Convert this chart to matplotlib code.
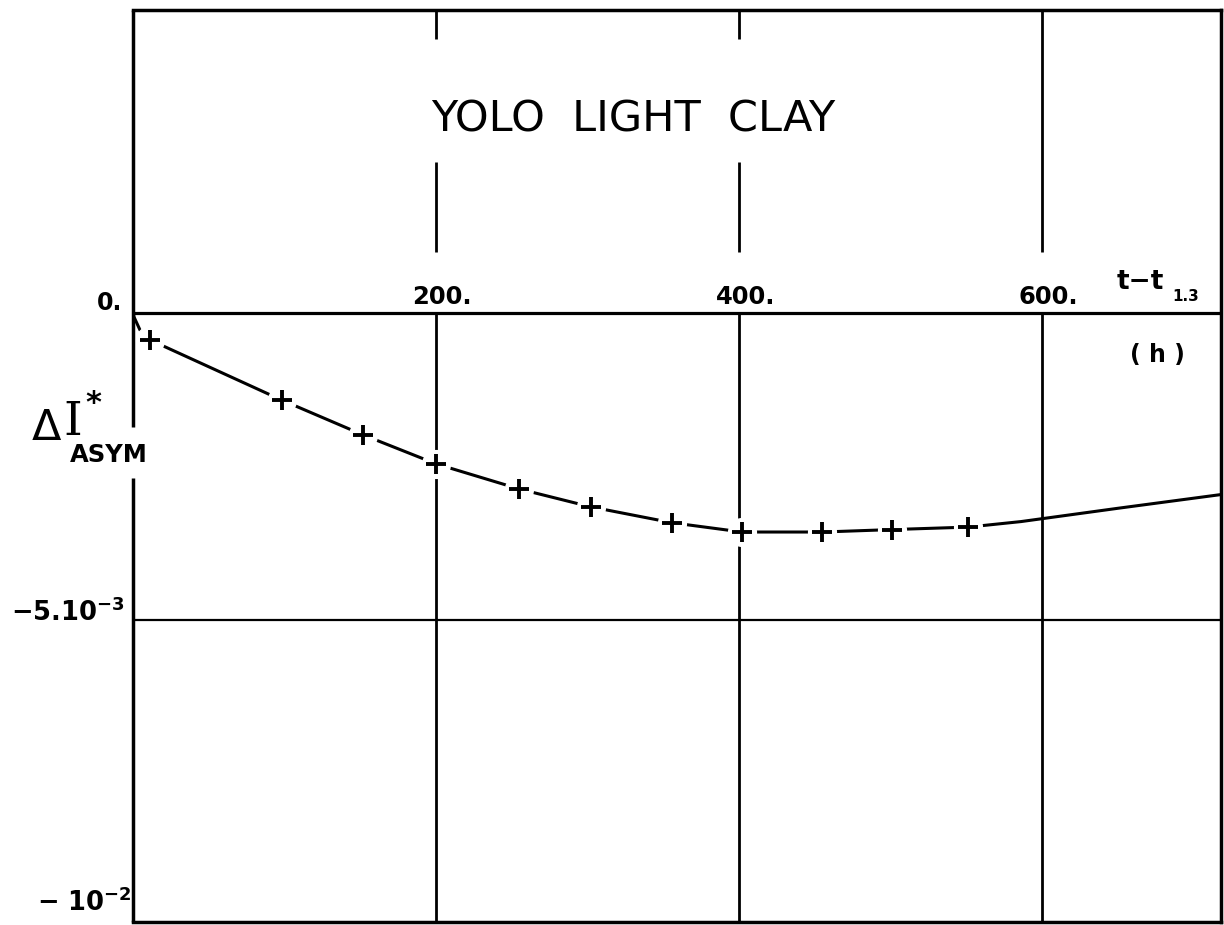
import matplotlib
matplotlib.use("Agg")
import matplotlib.pyplot as plt

# Measured asymmetry index vs. elapsed time
t_obs = [11, 98, 152, 200, 255, 302, 356, 402, 455, 501, 551]
dI_obs = [-0.44e-3, -1.42e-3, -1.99e-3, -2.46e-3, -2.87e-3, -3.16e-3,
          -3.42e-3, -3.57e-3, -3.57e-3, -3.53e-3, -3.49e-3]

# Hand-drawn smooth curve through the observations
t_curve = [0, 0.7, 4.6, 11, 98, 152, 200, 255, 302, 356, 402, 455, 501, 551, 586, 651, 718]
dI_curve = [0.0, -0.07e-3, -0.28e-3, -0.44e-3, -1.42e-3, -1.99e-3, -2.46e-3, -2.87e-3,
            -3.16e-3, -3.42e-3, -3.57e-3, -3.57e-3, -3.53e-3, -3.49e-3, -3.40e-3,
            -3.18e-3, -2.96e-3]

x_ticks = [200, 400, 600]
x_tick_labels = ["200.", "400.", "600."]

plt.rcParams["mathtext.fontset"] = "dejavusans"
plt.rcParams["mathtext.default"] = "bf"

fig = plt.figure(figsize=(12.24, 9.25), dpi=100)
ax = fig.add_axes([133 / 1224, 1 - 922 / 925, (1221 - 133) / 1224, (922 - 10) / 925])
XMAX = 718
YMIN, YMAX = -9.92e-3, 4.93e-3
ax.set_xlim(0, XMAX)
ax.set_ylim(YMIN, YMAX)
ax.set_xticks([])
ax.set_yticks([])
for side in ["top", "right", "bottom"]:
    ax.spines[side].set_linewidth(2.5)
ax.spines["left"].set_visible(False)

# left frame edge, interrupted by the axis label
ax.vlines(0, -2.69e-3, YMIN, color="black", lw=2.5, clip_on=False)
ax.vlines(0, -1.86e-3, YMAX, color="black", lw=2.5, clip_on=False)

# zero line and the -5e-3 reference line
ax.axhline(0, color="black", lw=2.3, zorder=2)
ax.axhline(-5e-3, color="black", lw=1.6, zorder=2)

# vertical grid lines (broken above the zero line around the title and labels)
for xv in x_ticks[:2]:
    ax.vlines(xv, 4.45e-3, YMAX, color="black", lw=2.0, zorder=2)
    ax.vlines(xv, 0.99e-3, 2.46e-3, color="black", lw=2.0, zorder=2)
    ax.vlines(xv, YMIN, 0, color="black", lw=2.0, zorder=2)
ax.vlines(x_ticks[2], 0.99e-3, YMAX, color="black", lw=2.0, zorder=2)
ax.vlines(x_ticks[2], YMIN, 0, color="black", lw=2.0, zorder=2)

# curve, white halos, then the plus markers
ax.plot(t_curve, dI_curve, color="black", lw=2.2, zorder=3, solid_capstyle="butt")
ax.plot(t_obs, dI_obs, ls="none", marker="o", ms=20, mfc="white", mec="white", zorder=4)
ax.plot(t_obs, dI_obs, ls="none", marker="+", ms=14, mew=2.8, color="black", zorder=5)

# x tick labels above the zero line
for xv, lab in zip(x_ticks, x_tick_labels):
    ax.text(xv + 4, 0.26e-3, lab, ha="center", va="center", fontsize=17.5,
            fontweight="bold", family="DejaVu Sans")

# title
ax.text(330, 3.14e-3, "YOLO  LIGHT  CLAY", ha="center", va="center", fontsize=31,
        family="DejaVu Sans")


# remaining labels placed in figure pixel space
def ftxt(x, y, s, **kw):
    fig.text(x / 1224, 1 - y / 925, s, **kw)


# x-axis quantity and unit
ftxt(1140, 282, "t−t", ha="center", va="center", fontsize=19, fontweight="bold")
ftxt(1186, 296, "1.3", ha="center", va="center", fontsize=11, fontweight="bold")
ftxt(1157, 355, "( h )", ha="center", va="center", fontsize=17, fontweight="bold")

# y tick labels
ftxt(110, 303, "0.", ha="center", va="center", fontsize=17, fontweight="bold")
ftxt(68, 613, "−5.10$^{-3}$", ha="center", va="center", fontsize=18.5, fontweight="bold")
ftxt(84, 903, "− 10$^{-2}$", ha="center", va="center", fontsize=18.5, fontweight="bold")

# y-axis quantity
ftxt(46, 428, "Δ", ha="center", va="center", fontsize=31)
ftxt(73, 422, "I", ha="center", va="center", fontsize=34, family="DejaVu Serif")
ftxt(93, 404, "*", ha="center", va="center", fontsize=22, fontweight="bold")
ftxt(109, 455, "ASYM", ha="center", va="center", fontsize=17.5, fontweight="bold")

fig.savefig("out.png", dpi=100, facecolor="white")
